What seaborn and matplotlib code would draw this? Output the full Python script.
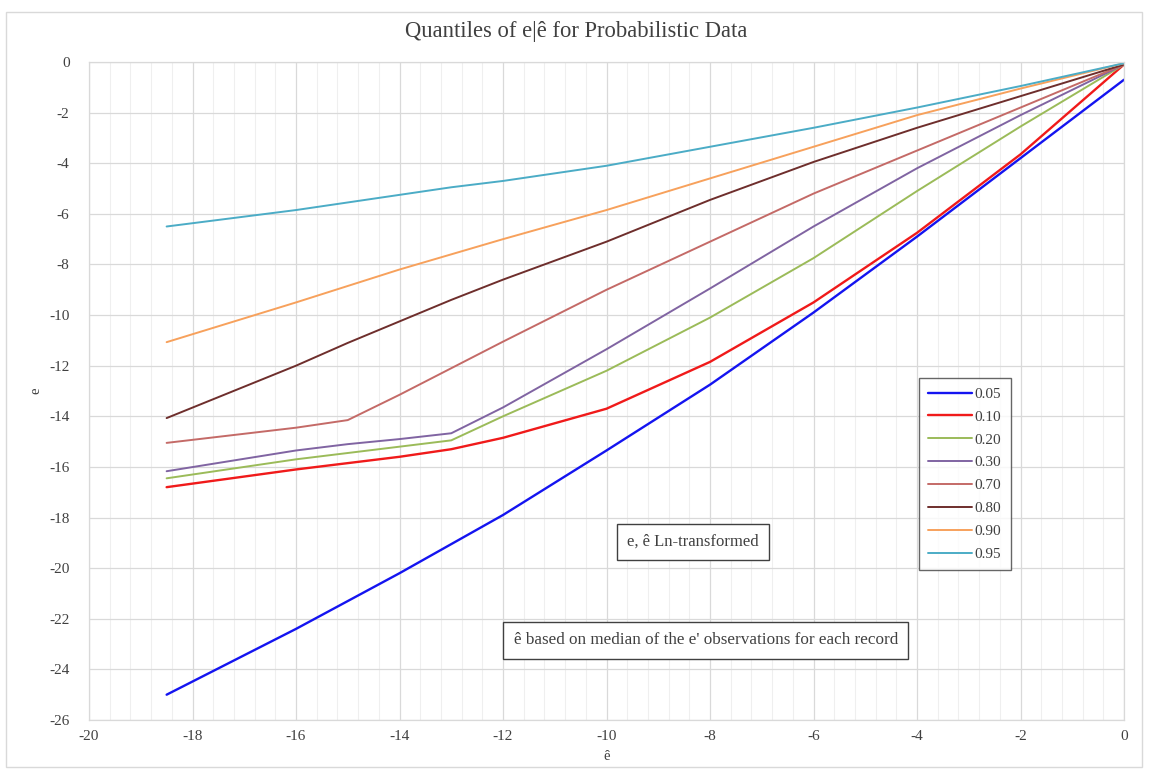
import matplotlib
matplotlib.use("Agg")
import matplotlib.pyplot as plt
import numpy as np
import pandas as pd
import seaborn as sns
from matplotlib.patches import Rectangle
from matplotlib.lines import Line2D
from matplotlib.ticker import MultipleLocator

# e-hat grid shared by all quantile curves
e_hat = [-18.5, -16, -15, -14, -13, -12, -10, -8, -6, -4, -2, 0]

q05 = [-25.0, -22.4, -21.3, -20.2, -19.05, -17.9, -15.35, -12.75, -9.9, -6.9, -3.8, -0.7]
q10 = [-16.8, -16.1, -15.85, -15.6, -15.3, -14.85, -13.7, -11.85, -9.5, -6.75, -3.65, -0.1]
q20 = [-16.45, -15.7, -15.45, -15.2, -14.95, -14.0, -12.2, -10.1, -7.75, -5.1, -2.55, -0.1]
q30 = [-16.17, -15.35, -15.1, -14.9, -14.67, -13.65, -11.35, -8.95, -6.5, -4.2, -2.1, -0.1]
q70 = [-15.05, -14.45, -14.15, -13.15, -12.1, -11.05, -9.0, -7.1, -5.2, -3.5, -1.8, -0.1]
q80 = [-14.07, -12.0, -11.1, -10.25, -9.4, -8.6, -7.1, -5.45, -3.95, -2.6, -1.35, -0.1]
q90 = [-11.07, -9.5, -8.85, -8.2, -7.6, -7.0, -5.85, -4.6, -3.35, -2.1, -1.05, -0.05]
q95 = [-6.5, -5.85, -5.55, -5.25, -4.95, -4.7, -4.1, -3.35, -2.6, -1.8, -0.95, -0.05]

quantile_labels = ["0.05", "0.10", "0.20", "0.30", "0.70", "0.80", "0.90", "0.95"]
series = [q05, q10, q20, q30, q70, q80, q90, q95]

colors = {
    "0.05": "#1414F0",
    "0.10": "#F01A1A",
    "0.20": "#9BBB59",
    "0.30": "#8064A2",
    "0.70": "#C46A67",
    "0.80": "#6E2E2C",
    "0.90": "#F7A15C",
    "0.95": "#4BACC6",
}
widths = {"0.05": 1.7, "0.10": 1.7}

frames = []
for lab, vals in zip(quantile_labels, series):
    frames.append(pd.DataFrame({"e_hat": e_hat, "e": vals, "q": lab}))
df = pd.concat(frames, ignore_index=True)

sns.set_theme(style="white")
plt.rcParams["font.family"] = ["Liberation Serif", "DejaVu Serif"]

fig = plt.figure(figsize=(11.49, 7.71), dpi=100)
fig.patch.set_facecolor("white")
fig.patches.append(Rectangle((6 / 1149, 4 / 771), 1136 / 1149, 755 / 771,
                             transform=fig.transFigure, fill=False,
                             edgecolor="#D9D9D9", linewidth=1.0))

ax = fig.add_axes([89 / 1149, 1 - 720 / 771, 1035 / 1149, 658 / 771])

for lab in quantile_labels:
    sub = df[df["q"] == lab]
    sns.lineplot(data=sub, x="e_hat", y="e", ax=ax, color=colors[lab],
                 linewidth=widths.get(lab, 1.4), legend=False, sort=True,
                 estimator=None)

ax.set_xlim(-20, 0)
ax.set_ylim(-26, 0)
ax.xaxis.set_major_locator(MultipleLocator(2))
ax.xaxis.set_minor_locator(MultipleLocator(0.4))
ax.yaxis.set_major_locator(MultipleLocator(2))
ax.grid(which="major", axis="both", color="#D9D9D9", linewidth=0.9)
ax.grid(which="minor", axis="x", color="#EFEFEF", linewidth=0.8)
ax.set_axisbelow(True)
for s in ax.spines.values():
    s.set_color("#D9D9D9")
    s.set_linewidth(0.9)
ax.tick_params(axis="both", which="both", length=0, labelsize=11,
               labelcolor="#404040")
ax.tick_params(axis="y", pad=14)
ax.tick_params(axis="x", pad=7)
ax.set_xticks(np.arange(-20, 1, 2))
ax.set_xticklabels([str(v) for v in range(-20, 1, 2)])
ax.set_yticks(np.arange(-26, 1, 2))
ax.set_yticklabels([str(v) for v in range(-26, 1, 2)])

ax.set_xlabel("ê", fontsize=10.5, color="#404040", labelpad=5)
ax.set_ylabel("e", fontsize=10.5, color="#404040", labelpad=5)

fig.text(576 / 1149, 1 - 31 / 771, "Quantiles of e|ê for Probabilistic Data",
         ha="center", va="center", fontsize=16.3, color="#404040")

handles = [Line2D([0], [0], color=colors[l], linewidth=widths.get(l, 1.4))
           for l in quantile_labels]
leg = ax.legend(handles, quantile_labels, loc="upper left",
                bbox_to_anchor=((919 - 89) / 1035, (720 - 378) / 658),
                frameon=True, fancybox=False, fontsize=11,
                handlelength=2.9, handletextpad=0.15, labelspacing=0.6,
                borderpad=0.6, borderaxespad=0, labelcolor="#404040")
leg.get_frame().set_edgecolor("#404040")
leg.get_frame().set_linewidth(1.0)

box_style = dict(boxstyle="square,pad=0.6", facecolor="white",
                 edgecolor="#404040", linewidth=1.0)
ax.text(-8.33, -18.97, "e, ê Ln-transformed", ha="center", va="center",
        fontsize=12, color="#404040", bbox=box_style)
ax.text(-8.08, -22.85, "ê based on median of the e' observations for each record",
        ha="center", va="center", fontsize=12.3, color="#404040", bbox=box_style)

fig.savefig("out.png", dpi=100, facecolor="white")
